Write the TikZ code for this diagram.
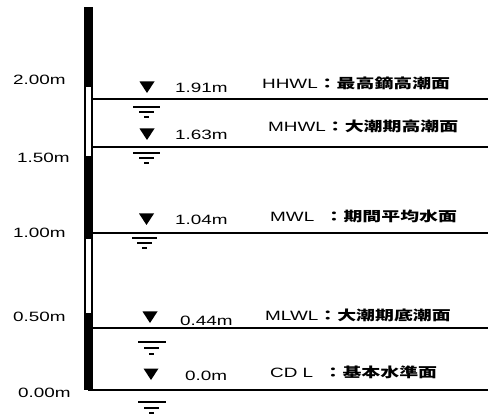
\documentclass[tikz,border=0pt]{standalone}
\usepackage{fontspec}
\setmainfont{Liberation Sans}
\newfontfamily\cjk{Noto Sans CJK JP}
\newcommand{\wide}[1]{\scalebox{1.4}[1]{#1}}
\tikzset{
  lab/.style={anchor=base west, inner sep=0pt, font=\fontsize{13.5}{14}\selectfont},
  lvl/.style={line width=1.4pt},
  wsym/.style={line width=1.1pt},
}
\begin{document}
\begin{tikzpicture}[x=1pt,y=-1pt]
\useasboundingbox (0,0) rectangle (488,417);
% staff
\fill (84,7) rectangle (93,390);
\fill[white] (86.3,87) rectangle (90.7,156.5);
\fill[white] (86.3,239.5) rectangle (90.7,313);
% level lines
\coordinate (p1) at (93,99);  \coordinate (e1) at (488,99);
\coordinate (p2) at (93,147); \coordinate (e2) at (488,147);
\coordinate (p3) at (93,233); \coordinate (e3) at (488,233);
\coordinate (p4) at (93,328); \coordinate (e4) at (488,328);
\coordinate (p5) at (88,390); \coordinate (e5) at (488,390);
\draw[lvl] (p1) -- (e1);
\draw[lvl] (p2) -- (e2);
\draw[lvl] (p3) -- (e3);
\draw[lvl] (p4) -- (e4);
\draw[lvl] (p5) -- (e5);
% triangles
\fill (139.5,81.5) -- (154.5,81.5) -- (147,93) -- cycle;
\fill (139.5,128.5) -- (154.5,128.5) -- (147,140) -- cycle;
\fill (139,213.5) -- (154,213.5) -- (146.5,225) -- cycle;
\fill (142.5,311.5) -- (157.5,311.5) -- (150,323) -- cycle;
\fill (143.5,368.5) -- (158.5,368.5) -- (151,380) -- cycle;
% water symbols
\draw[wsym] (133,107) -- (160,107) (139,112) -- (154,112) (144,117) -- (149,117);
\draw[wsym] (133,153) -- (160,153) (139,158) -- (154,158) (144,163) -- (149,163);
\draw[wsym] (132,238) -- (157,238) (137,243) -- (152,243) (142,248) -- (147,248);
\draw[wsym] (138,342) -- (166,342) (144,348) -- (159,348) (149,354) -- (154,354);
\draw[wsym] (138,402) -- (166,402) (144,408) -- (159,408) (149,413) -- (154,413);
% scale labels
\node[lab] (t200) at (13,85)  {\wide{2.00m}};
\node[lab] (t150) at (17,163) {\wide{1.50m}};
\node[lab] (t100) at (13,238) {\wide{1.00m}};
\node[lab] (t050) at (13,322) {\wide{0.50m}};
\node[lab] (t000) at (18,397) {\wide{0.00m}};
% values
\node[lab] (v1) at (175,93)  {\wide{1.91m}};
\node[lab] (v2) at (175,140) {\wide{1.63m}};
\node[lab] (v3) at (175,225) {\wide{1.04m}};
\node[lab] (v4) at (180,325) {\wide{0.44m}};
\node[lab] (v5) at (185,380) {\wide{0.0m}};
% names
\node[lab] (n1) at (262,89)  {\wide{HHWL{\cjk\bfseries ：最高鏑高潮面}}};
\node[lab] (n2) at (268,132) {\wide{MHWL{\cjk\bfseries ：大潮期高潮面}}};
\node[lab] (n3) at (270,222) {\wide{MWL\hspace{0.55em}{\cjk\bfseries ：期間平均水面}}};
\node[lab] (n4) at (265,320) {\wide{MLWL{\cjk\bfseries ：大潮期底潮面}}};
\node[lab] (n5) at (270,377) {\wide{CD L\hspace{0.55em}{\cjk\bfseries ：基本水準面}}};
\end{tikzpicture}
\end{document}
